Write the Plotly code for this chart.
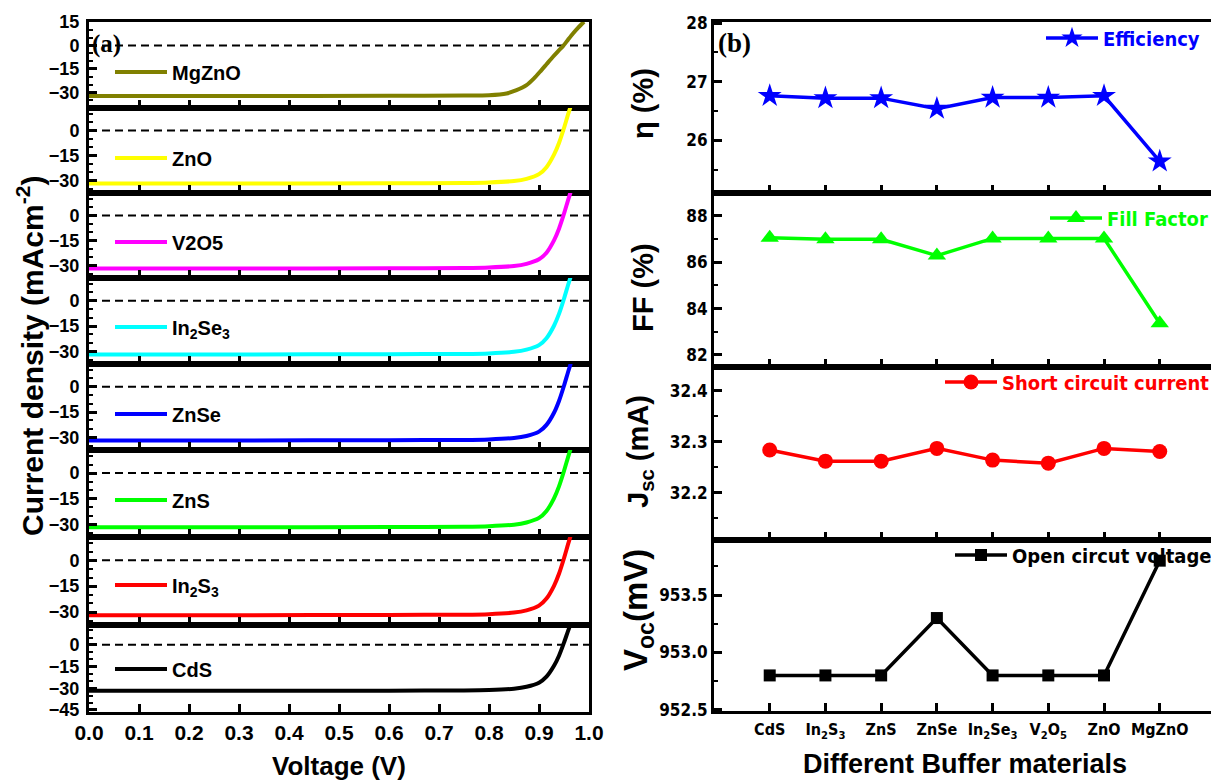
import plotly.graph_objects as go

W, H = 1211, 783

# ---------------- panel (a): J-V curves ----------------
v_std = [0.0, 0.3, 0.6, 0.75, 0.8, 0.85, 0.875, 0.9, 0.915, 0.93, 0.94, 0.95, 0.958, 0.966]
j_cds = [-31.8, -31.8, -31.7, -31.5, -31.2, -30.3, -29.0, -26.2, -22.0, -14.5, -7.5, 1.5, 9.5, 17.0]
j_in2s3 = [-31.8, -31.8, -31.7, -31.5, -31.2, -30.3, -29.0, -26.3, -22.2, -14.8, -7.8, 1.2, 9.2, 16.8]
j_zns = [-31.8, -31.8, -31.7, -31.5, -31.2, -30.3, -29.0, -26.3, -22.2, -14.8, -7.8, 1.2, 9.2, 16.8]
j_znse = [-31.8, -31.8, -31.7, -31.5, -31.2, -30.4, -29.2, -26.6, -22.6, -15.4, -8.4, 0.6, 8.6, 16.2]
j_in2se3 = [-31.8, -31.8, -31.7, -31.5, -31.2, -30.3, -29.0, -26.3, -22.2, -14.8, -7.8, 1.2, 9.2, 16.8]
j_v2o5 = [-31.8, -31.8, -31.7, -31.5, -31.2, -30.3, -29.0, -26.3, -22.3, -14.9, -7.9, 1.1, 9.1, 16.7]
j_zno = [-31.8, -31.8, -31.7, -31.5, -31.2, -30.3, -29.0, -26.2, -22.0, -14.5, -7.5, 1.5, 9.5, 17.0]

v_mgzno = [0.0, 0.3, 0.6, 0.75, 0.8, 0.835, 0.855, 0.875, 0.89, 0.902, 0.915, 0.928,
           0.938, 0.948, 0.958, 0.968, 0.978, 0.99]
j_mgzno = [-32.3, -32.3, -32.2, -32.0, -31.8, -30.7, -28.6, -25.4, -21.0, -16.8, -12.0, -7.2,
           -3.7, -0.4, 3.7, 7.7, 11.3, 15.2]

jv_names = ["MgZnO", "ZnO", "V2O5", "In<sub>2</sub>Se<sub>3</sub>", "ZnSe", "ZnS",
            "In<sub>2</sub>S<sub>3</sub>", "CdS"]
jv_volt = [v_mgzno, v_std, v_std, v_std, v_std, v_std, v_std, v_std]
jv_curr = [j_mgzno, j_zno, j_v2o5, j_in2se3, j_znse, j_zns, j_in2s3, j_cds]
jv_colors = ["#808000", "#FFFF00", "#FF00FF", "#00FFFF", "#0000FF", "#00FF00", "#FF0000", "#000000"]
volt_ticks = [0.0, 0.1, 0.2, 0.3, 0.4, 0.5, 0.6, 0.7, 0.8, 0.9, 1.0]

# ---------------- panel (b): device parameters ----------------
buffers = ["CdS", "In<sub>2</sub>S<sub>3</sub>", "ZnS", "ZnSe", "In<sub>2</sub>Se<sub>3</sub>",
           "V<sub>2</sub>O<sub>5</sub>", "ZnO", "MgZnO"]
efficiency = [26.76, 26.72, 26.72, 26.54, 26.73, 26.73, 26.76, 25.64]
fill_factor = [87.06, 86.99, 86.99, 86.29, 87.03, 87.03, 87.03, 83.37]
jsc = [32.284, 32.262, 32.262, 32.287, 32.264, 32.258, 32.287, 32.281]
voc = [952.8, 952.8, 952.8, 953.3, 952.8, 952.8, 952.8, 953.8]

BOLD = "Liberation Sans"
NARROW = "Liberation Sans Narrow, Arial Narrow, DejaVu Sans Condensed, Liberation Sans"
SERIF = "Liberation Serif, Times New Roman, serif"


def px_y(p):
    return 1 - p / H


def px_x(p):
    return p / W


def sfx(n):
    return "" if n == 1 else str(n)


fig = go.Figure()
layout = dict(width=W, height=H, autosize=False,
              margin=dict(l=0, r=0, t=0, b=0, autoexpand=False),
              paper_bgcolor="white", plot_bgcolor="white", showlegend=True)
shapes = []
annotations = []

# left column geometry
left_x = [px_x(89), px_x(589)]
left_edges = [22, 108, 193, 278, 364, 450, 537, 625, 712]
n_left = len(jv_names)

for i in range(n_left):
    n = i + 1
    s = sfx(n)
    leg = "legend" + s
    fig.add_trace(go.Scatter(
        x=jv_volt[i], y=jv_curr[i], mode="lines", name=jv_names[i],
        line=dict(color=jv_colors[i], width=4, shape="spline", smoothing=0.6),
        xaxis="x" + s, yaxis="y" + s, legend=leg, showlegend=True))

    if i == 0:
        yr = [-40, 15.05]
    elif i == n_left - 1:
        yr = [-46.4, 13.7]
    else:
        yr = [-37.5, 13.5]

    bottom = (i == n_left - 1)
    layout["xaxis" + s] = dict(
        domain=left_x, anchor="y" + s, range=[0, 1],
        tickmode="array", tickvals=volt_ticks,
        ticktext=[f"{t:.1f}" for t in volt_ticks],
        showticklabels=bottom, ticks="inside", ticklen=8, tickwidth=2.5, tickcolor="black",
        ticklabelstandoff=0,
        showline=True, linewidth=3, linecolor="black", mirror=True,
        showgrid=False, zeroline=False,
        tickfont=dict(family=BOLD, size=21, color="black", weight="bold"))
    layout["yaxis" + s] = dict(
        domain=[px_y(left_edges[i + 1]), px_y(left_edges[i])], anchor="x" + s, range=yr,
        tickmode="linear", tick0=0, dtick=15,
        ticks="inside", ticklen=8, tickwidth=2.5, tickcolor="black",
        ticklabelstandoff=3,
        minor=dict(tickmode="linear", tick0=0, dtick=5, ticks="inside", ticklen=4,
                   tickwidth=2, tickcolor="black"),
        showline=True, linewidth=3, linecolor="black", mirror=True,
        showgrid=False, zeroline=False,
        tickfont=dict(family=BOLD, size=18, color="black", weight="bold"))

    shapes.append(dict(type="line", xref="x" + s + " domain", yref="y" + s,
                       x0=0, x1=1, y0=0, y1=0, layer="below",
                       line=dict(color="black", width=2, dash="8px,5px")))

    leg_y = [72, 158, 242, 327, 414, 500, 585, 669][i]
    layout[leg] = dict(x=px_x(110), y=px_y(leg_y), xanchor="left", yanchor="middle",
                       bgcolor="rgba(0,0,0,0)", itemwidth=52,
                       font=dict(family=BOLD, size=20, color="black", weight="bold"))

# right column geometry
right_x = [px_x(714), 1.0]
right_edges = [22, 193, 367, 540, 711]
right_series = [
    ("Efficiency", efficiency, "#0000FF", "star", 18, [25.1, 28.02], 1, 0.5, ".0f"),
    ("Fill Factor", fill_factor, "#00FF00", "triangle-up", 16, [81.48, 88.99], 2, 1, ".0f"),
    ("Short circuit current", jsc, "#FF0000", "circle", 15, [32.107, 32.447], 0.1, 0.05, ".1f"),
    ("Open circut voltage", voc, "#000000", "square", 12, [952.49, 953.98], 0.5, 0.25, ".1f"),
]
right_leg = [(1041, 38), (1045, 218), (940, 382), (950, 555)]

for k, (name, vals, color, sym, msize, yr, dt, mdt, fmt) in enumerate(right_series):
    n = n_left + 1 + k
    s = sfx(n)
    leg = "legend" + s
    fig.add_trace(go.Scatter(
        x=list(range(len(buffers))), y=vals, mode="lines+markers", name=name,
        line=dict(color=color, width=3.5),
        marker=dict(symbol=sym, size=msize, color=color, line=dict(width=0)),
        xaxis="x" + s, yaxis="y" + s, legend=leg, showlegend=True))
    bottom = (k == len(right_series) - 1)
    layout["xaxis" + s] = dict(
        domain=right_x, anchor="y" + s, range=[-1, 7.92],
        tickmode="array", tickvals=list(range(len(buffers))), ticktext=buffers,
        showticklabels=bottom, ticks="inside", ticklen=8, tickwidth=2.5, tickcolor="black",
        ticklabelstandoff=2,
        showline=True, linewidth=3, linecolor="black", mirror=True,
        showgrid=False, zeroline=False,
        tickfont=dict(family=NARROW, size=16, color="black", weight="bold"))
    layout["yaxis" + s] = dict(
        domain=[px_y(right_edges[k + 1]), px_y(right_edges[k])], anchor="x" + s, range=yr,
        tickmode="linear", tick0=0, dtick=dt, tickformat=fmt,
        ticks="inside", ticklen=8, tickwidth=2.5, tickcolor="black",
        minor=dict(tickmode="linear", tick0=0, dtick=mdt, ticks="inside", ticklen=4,
                   tickwidth=2, tickcolor="black"),
        showline=True, linewidth=3, linecolor="black", mirror=False,
        showgrid=False, zeroline=False,
        tickfont=dict(family=NARROW, size=17, color="black", weight="bold"))
    lx, ly = right_leg[k]
    layout[leg] = dict(x=px_x(lx), y=px_y(ly), xanchor="left", yanchor="middle",
                       bgcolor="rgba(0,0,0,0)", itemwidth=52,
                       font=dict(family=NARROW, size=20, color=color, weight="bold"))


def label(text, x, y, size, family=BOLD, angle=0, xanchor="center"):
    return dict(text=text, x=px_x(x), y=px_y(y), xref="paper", yref="paper",
                xanchor=xanchor, yanchor="middle", textangle=angle, showarrow=False,
                font=dict(family=family, size=size, color="black", weight="bold"))


# panel labels and axis titles
annotations += [
    label("(a)", 90, 44, 25, family=SERIF, xanchor="left"),
    label("(b)", 716, 43, 27, family=SERIF, xanchor="left"),
    label("Current density (mAcm<sup>-2</sup>)", 30, 356, 30, angle=-90),
    label("Voltage (V)", 339, 766, 26),
    label("Different Buffer materials", 965, 764, 27),
    label("η (%)", 643, 104, 29, angle=-90),
    label("FF (%)", 643, 288, 29, angle=-90),
    label("J<sub>sc</sub> (mA)", 640, 452, 29, angle=-90),
    label("V<sub>oc</sub>(mV)", 638, 610, 33, angle=-90),
]

layout["shapes"] = shapes
layout["annotations"] = annotations
fig.update_layout(**layout)
fig.write_html("out.html")
